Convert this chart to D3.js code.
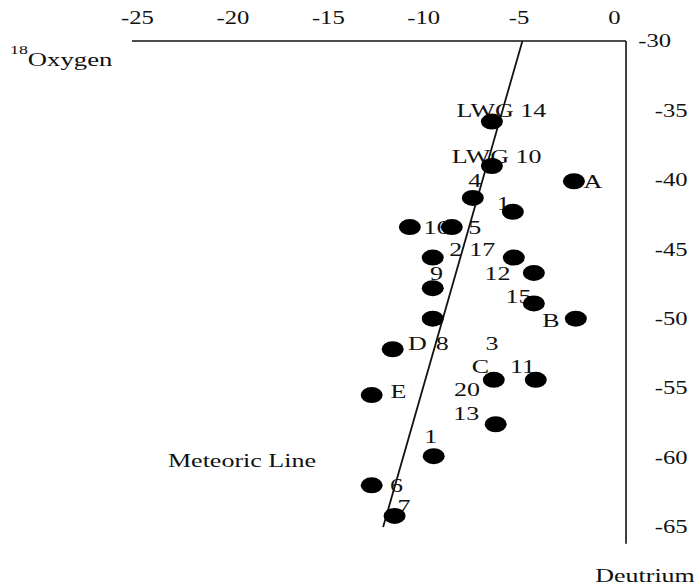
<!DOCTYPE html>
<html>
<head>
<meta charset="utf-8">
<script src="https://cdn.jsdelivr.net/npm/d3@7"></script>
<style>
  body { margin: 0; background: #fff; }
  text { font-family: "Liberation Serif", "Times New Roman", serif; fill: #111; }
</style>
</head>
<body>
<div id="chart"></div>
<script>
// Sample points (deuterium on x, oxygen on y)
const pointNames = ['LWG 14', 'LWG 10', '4', '1', 'A', '16', '5', '2', '17', '12', '9',
  '15', 'B', '8', 'D', 'C', '11', 'E', '13', '1b', '6', '7'];
const pointX = [-6.4, -6.4, -7.4, -5.3, -2.1, -10.7, -8.5, -9.5, -5.25, -4.2, -9.5,
  -4.2, -2.0, -9.5, -11.6, -6.3, -4.1, -12.7, -6.2, -9.45, -12.7, -11.5];
const pointY = [-35.8, -39.0, -41.3, -42.3, -40.1, -43.4, -43.4, -45.6, -45.6, -46.7, -47.8,
  -48.9, -50.0, -50.0, -52.2, -54.4, -54.4, -55.5, -57.6, -59.9, -62.0, -64.2];

// Labels are not always next to their dots, so they have their own positions
const labelText = ['LWG 14', 'LWG 10', '4', '1', 'A', '16', '5', '2', '17', '12', '9',
  '15', 'B', 'D', '8', '3', 'C', '11', 'E', '20', '13', '1', '6', '7'];
const labelX = [-5.9, -6.15, -7.3, -5.8, -1.1, -9.3, -7.3, -8.3, -6.9, -6.1, -9.3,
  -5.0, -3.3, -10.3, -9.0, -6.4, -7.0, -4.8, -11.3, -7.7, -7.75, -9.6, -11.4, -11.0];
const labelY = [-35.0, -38.3, -40.0, -41.7, -40.1, -43.4, -43.4, -45.0, -45.0, -46.7, -46.7,
  -48.4, -50.1, -51.8, -51.8, -51.8, -53.4, -53.4, -55.2, -55.1, -56.8, -58.5, -62.0, -63.5];

// Meteoric line end points
const lineX = [-4.8, -12.1];
const lineY = [-30, -65];

const xTicks = [-25, -20, -15, -10, -5, 0];
const yTicks = [-30, -35, -40, -45, -50, -55, -60, -65];

const width = 694;
const height = 587;
const stretch = 1.37; // the scan is wide, so the type is widened too

const x = d3.scaleLinear().domain([-25, 0]).range([137, 614]);
const y = d3.scaleLinear().domain([-30, -65]).range([41, 527]);

const svg = d3.select('#chart')
  .append('svg')
  .attr('width', width)
  .attr('height', height);

const axisRightX = x(0.63);
const plain = d => String(d); // ascii hyphen, like the scan

// top axis
const topAxis = svg.append('g')
  .attr('transform', 'translate(0,41)')
  .call(d3.axisTop(x).tickValues(xTicks).tickSize(0).tickPadding(17).tickFormat(plain));
topAxis.select('.domain').remove();
topAxis.selectAll('text')
  .attr('transform', `scale(${stretch},1)`)
  .style('font-size', '18px')
  .style('font-family', '"Liberation Serif", serif');

svg.append('line')
  .attr('x1', x(-25.26)).attr('x2', axisRightX)
  .attr('y1', y(-30)).attr('y2', y(-30))
  .attr('stroke', '#111').attr('stroke-width', 1.6);

// right axis
const rightAxis = svg.append('g')
  .attr('transform', `translate(${axisRightX},0)`)
  .call(d3.axisRight(y).tickValues(yTicks).tickSize(0).tickPadding(21).tickFormat(plain));
rightAxis.select('.domain').remove();
rightAxis.selectAll('text')
  .attr('transform', `scale(${stretch},1)`)
  .attr('dx', d => d === -30 ? -12 : 0)
  .style('font-size', '18px')
  .style('font-family', '"Liberation Serif", serif');

svg.append('line')
  .attr('x1', axisRightX).attr('x2', axisRightX)
  .attr('y1', y(-30)).attr('y2', y(-66.2))
  .attr('stroke', '#111').attr('stroke-width', 1.6);

// axis titles
const oxy = svg.append('text')
  .attr('transform', `translate(10,62) scale(${stretch},1)`)
  .style('font-size', '19.5px');
oxy.append('tspan').attr('dy', '-0.6em').style('font-size', '13px').text('18');
oxy.append('tspan').attr('dy', '0.6em').text('Oxygen');

svg.append('text')
  .attr('transform', `translate(645,582) scale(${stretch},1)`)
  .attr('text-anchor', 'middle')
  .style('font-size', '19px')
  .text('Deutrium');

svg.append('text')
  .attr('transform', `translate(242,460) scale(${stretch},1)`)
  .attr('text-anchor', 'middle')
  .attr('dy', '0.35em')
  .style('font-size', '19px')
  .text('Meteoric Line');

// point labels
svg.selectAll('text.lab')
  .data(labelText)
  .enter()
  .append('text')
  .attr('class', 'lab')
  .attr('transform', (d, i) => `translate(${x(labelX[i])},${y(labelY[i])}) scale(${stretch},1)`)
  .attr('text-anchor', 'middle')
  .attr('dy', '0.35em')
  .style('font-size', '19px')
  .text(d => d);

// meteoric line
svg.append('line')
  .attr('x1', x(lineX[0])).attr('y1', y(lineY[0]))
  .attr('x2', x(lineX[1])).attr('y2', y(lineY[1]))
  .attr('stroke', '#111').attr('stroke-width', 1.8);

// dots
svg.selectAll('ellipse')
  .data(pointNames)
  .enter()
  .append('ellipse')
  .attr('cx', (d, i) => x(pointX[i]))
  .attr('cy', (d, i) => y(pointY[i]))
  .attr('rx', 11)
  .attr('ry', 8)
  .attr('fill', '#000');
</script>
</body>
</html>
